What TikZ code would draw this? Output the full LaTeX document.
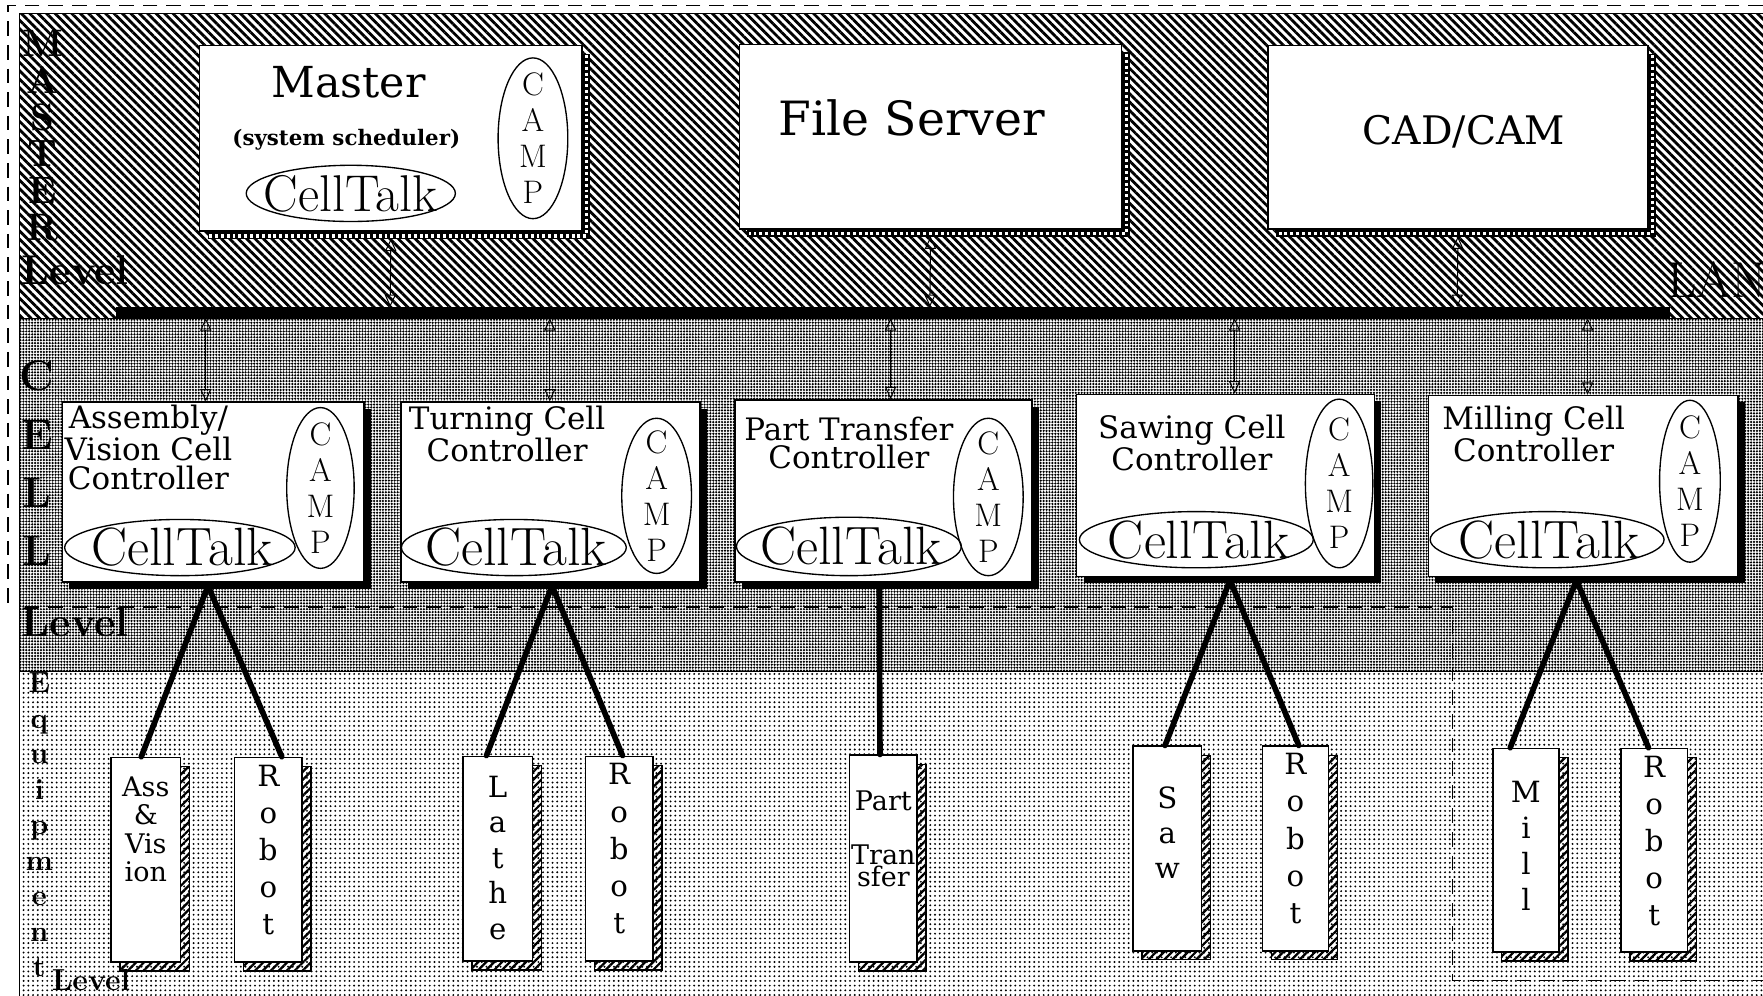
\documentclass[tikz,border=0pt]{standalone}
\usepackage{fontspec}
\newfontfamily\dvs{DejaVu Serif}
\usetikzlibrary{patterns.meta,arrows.meta,shapes.geometric,shadows}
\tikzset{
  bandm/.style={draw=black, line width=1pt, pattern={Lines[angle=-45,distance=5.3pt,line width=2.5pt]}},
  bandc/.style={draw=black, line width=1pt, pattern={Dots[distance=2.6pt,radius=1.1pt]}},
  bande/.style={draw=black, line width=1pt, pattern={Dots[distance=4.2pt,radius=0.95pt]}},
  mbox/.style={draw=black, fill=white, line width=1.3pt, anchor=north west, inner sep=0pt,
    general shadow={fill=black, shadow xshift=7pt, shadow yshift=-7pt}},
  cbox/.style={draw=black, fill=white, line width=1.3pt, anchor=north west, inner sep=0pt,
    general shadow={fill=black, shadow xshift=6pt, shadow yshift=-6pt}},
  ebox/.style={draw=black, fill=white, line width=1.3pt, anchor=north west, inner sep=0pt,
    minimum height=182pt,
    general shadow={draw=black, line width=1.2pt, pattern={Lines[angle=45,distance=5pt,line width=2pt]},
      shadow xshift=8pt, shadow yshift=-8pt}},
  oval/.style={ellipse, draw=black, line width=1.2pt, inner sep=0pt},
  checker/.style={white, line width=3pt, dash pattern=on 2.6pt off 2.6pt},
  lanbus/.style={line width=10pt},
  biarrow/.style={line width=0.9pt, {Triangle[open,length=11pt,width=10pt]}-{Triangle[open,length=11pt,width=10pt]}},
  link/.style={line width=5pt, line cap=round, line join=round},
  outline/.style={dash pattern=on 13pt off 8pt, line width=1.2pt},
  ttl/.style={font=\dvs\fontsize{38}{40}\selectfont, inner sep=0pt},
  ctl/.style={font=\fontsize{48}{48}\selectfont, inner sep=0pt},
  camp/.style={font=\fontsize{29}{32}\selectfont, align=center, inner sep=0pt},
  ctrltxt/.style={font=\dvs\fontsize{27.5}{25.5}\selectfont, align=center, inner sep=0pt},
  eqtxt/.style={font=\dvs\fontsize{26}{33}\selectfont, align=center, inner sep=0pt, anchor=north},
  side/.style={inner sep=0pt, align=center, anchor=north},
  lvl/.style={inner sep=0pt, anchor=west, font=\bfseries\fontsize{37}{37}\selectfont},
}
\begin{document}
\begin{tikzpicture}[x=1pt,y=-1pt]
\useasboundingbox (0,0) rectangle (1568,885);
\fill[white] (0,0) rectangle (1568,885);
% bands
\path[bandm] (17,12) rectangle (1570,283);
\path[bandc] (17,283) rectangle (1570,597);
\path[bande] (17,597) rectangle (1570,887);
% dashed boundary
\draw[outline] (1568,5) -- (7,5) -- (7,540);
\draw[outline] (22,540) -- (1292,540) -- (1292,872) -- (1568,872);
% side labels
\node[side, font=\bfseries\fontsize{34}{32.6}\selectfont] (lblM) at (38,27) {M\\A\\S\\T\\E\\R};
\node[lvl] (lblML) at (19,240) {Level};
\node[side, font=\bfseries\fontsize{38}{51.7}\selectfont] (lblC) at (33,321) {C\\E\\L\\L};
\node[lvl] (lblCL) at (19,553) {Level};
\node[side, font=\bfseries\fontsize{26}{31.6}\selectfont] (lblE) at (35,598) {E\\q\\u\\i\\p\\m\\e\\n\\t};
\node[inner sep=0pt, anchor=base west, font=\bfseries\fontsize{27}{27}\selectfont] (lblEL) at (46,881) {Level};
\node[inner sep=0pt, anchor=base west, font=\fontsize{45}{45}\selectfont] (lan) at (1483,265) {LAN};
% LAN bus
\coordinate (lanL) at (103,278);
\coordinate (lanR) at (1485,278);
\draw[lanbus] (lanL) -- (lanR);
% master level boxes
\node[mbox, minimum width=340pt, minimum height=165pt] (master) at (177,40) {};
\node[mbox, minimum width=340pt, minimum height=164pt] (fs) at (657,39) {};
\node[mbox, minimum width=338pt, minimum height=163pt] (cad) at (1127,40) {};
\foreach \b in {master,fs,cad}{
  \draw[checker] ([xshift=3.5pt,yshift=-9pt]\b.north east) -- ([xshift=3.5pt,yshift=-3.5pt]\b.south east) -- ([xshift=9pt,yshift=-3.5pt]\b.south west);
}
\node[ttl] (mastert) at (310,73) {Master};
\node[font=\dvs\bfseries\fontsize{19}{19}\selectfont, inner sep=0pt] (sched) at (308,124) {(system scheduler)};
\node[oval, minimum width=186pt, minimum height=50pt] (ctm) at (312,172) {};
\node[ctl, font=\fontsize{46}{46}\selectfont] (ctmt) at (ctm) {CellTalk};
\node[oval, minimum width=62pt, minimum height=143pt] (cpm) at (474,123) {};
\node[camp] (cpmt) at (cpm) {C\\A\\M\\P};
\node[ttl, font=\dvs\fontsize{42}{42}\selectfont] (fst) at (811,105) {File Server};
\node[ttl, font=\dvs\fontsize{35}{35}\selectfont] (cadt) at (1302,117) {CAD/CAM};
% LAN coordinates
\coordinate (lm1) at (347,273);
\coordinate (lm2) at (827,273);
\coordinate (lm3) at (1296,273);
\draw[biarrow] ([yshift=-6pt]master.south) -- (lm1);
\draw[biarrow] ([yshift=-6pt]fs.south) -- (lm2);
\draw[biarrow] ([yshift=-6pt]cad.south) -- (lm3);
% cell controllers
\node[cbox, minimum width=268pt, minimum height=160pt] (c1) at (55,357) {};
\node[cbox, minimum width=266pt, minimum height=160pt] (c2) at (356,357) {};
\node[cbox, minimum width=264pt, minimum height=162pt] (c3) at (653,355) {};
\node[cbox, minimum width=265pt, minimum height=162pt] (c4) at (957,350) {};
\node[cbox, minimum width=275pt, minimum height=161pt] (c5) at (1270,351) {};
\node[ctrltxt] (c1t) at (132,398) {Assembly/\\Vision Cell\\Controller};
\node[ctrltxt] (c2t) at (451,386) {Turning Cell\\Controller};
\node[ctrltxt] (c3t) at (755,394) {Part Transfer\\Controller};
\node[ctrltxt] (c4t) at (1060,394) {Sawing Cell\\Controller};
\node[ctrltxt] (c5t) at (1364,386) {Milling Cell\\Controller};
\node[oval, minimum width=205pt, minimum height=50pt] (ct1) at (160,487) {};
\node[oval, minimum width=200pt, minimum height=50pt] (ct2) at (457,487) {};
\node[oval, minimum width=200pt, minimum height=52pt] (ct3) at (755,486) {};
\node[oval, minimum width=208pt, minimum height=50pt] (ct4) at (1064,480) {};
\node[oval, minimum width=208pt, minimum height=50pt] (ct5) at (1376,480) {};
\foreach \c in {ct1,ct2,ct3,ct4,ct5}{ \node[ctl] at ([xshift=2pt]\c) {CellTalk}; }
\node[oval, minimum width=60pt, minimum height=143pt] (cp1) at (285,434) {};
\node[oval, minimum width=62pt, minimum height=138pt] (cp2) at (584,441) {};
\node[oval, minimum width=62pt, minimum height=140pt] (cp3) at (879,442) {};
\node[oval, minimum width=60pt, minimum height=150pt] (cp4) at (1191,430) {};
\node[oval, minimum width=54pt, minimum height=144pt] (cp5) at (1503,428) {};
\foreach \c in {cp1,cp2,cp3,cp4,cp5}{ \node[camp] at (\c) {C\\A\\M\\P}; }
% LAN to controllers
\coordinate (lc1) at (183,283);
\coordinate (lc2) at (489,283);
\coordinate (lc3) at (792,283);
\coordinate (lc4) at (1098,283);
\coordinate (lc5) at (1412,283);
\draw[biarrow] (lc1) -- (lc1 |- c1.north);
\draw[biarrow] (lc2) -- (lc2 |- c2.north);
\draw[biarrow] (lc3) -- (lc3 |- c3.north);
\draw[biarrow] (lc4) -- (lc4 |- c4.north);
\draw[biarrow] (lc5) -- (lc5 |- c5.north);
% equipment
\node[ebox, minimum width=62pt] (av) at (98,673) {};
\node[ebox, minimum width=60pt] (r1) at (208,673) {};
\node[ebox, minimum width=62pt] (lathe) at (411,672) {};
\node[ebox, minimum width=60pt] (r2) at (520,672) {};
\node[ebox, minimum width=60pt, minimum height=184pt] (pt) at (755,671) {};
\node[ebox, minimum width=61pt] (saw) at (1007,663) {};
\node[ebox, minimum width=59pt] (r3) at (1122,663) {};
\node[ebox, minimum width=59pt, minimum height=181pt] (mill) at (1327,665) {};
\node[ebox, minimum width=59pt, minimum height=181pt] (r4) at (1441,665) {};
\node[eqtxt, font=\dvs\fontsize{24}{25}\selectfont] (avt) at ([yshift=-18pt]av.north) {Ass\\\&\\Vis\\ion};
\node[eqtxt] (r1t) at ([yshift=-7pt]r1.north) {R\\o\\b\\o\\t};
\node[eqtxt, font=\dvs\fontsize{26}{31.5}\selectfont] (lathet) at ([yshift=-18pt]lathe.north) {L\\a\\t\\h\\e};
\node[eqtxt] (r2t) at ([yshift=-7pt]r2.north) {R\\o\\b\\o\\t};
\node[eqtxt, font=\dvs\fontsize{24}{18}\selectfont] (ptt) at ([yshift=-32pt]pt.north) {Part\\[30pt]Tran\\sfer};
\node[eqtxt, font=\dvs\fontsize{26}{31}\selectfont] (sawt) at ([yshift=-37pt]saw.north) {S\\a\\w};
\node[eqtxt] (r3t) at ([yshift=-7pt]r3.north) {R\\o\\b\\o\\t};
\node[eqtxt, font=\dvs\fontsize{26}{32}\selectfont] (millt) at ([yshift=-30pt]mill.north) {M\\i\\l\\l};
\node[eqtxt] (r4t) at ([yshift=-7pt]r4.north) {R\\o\\b\\o\\t};
% links
\coordinate (k1) at (185,521);
\coordinate (k2) at (491,521);
\coordinate (k3) at (782,521);
\coordinate (k4) at (1094,516);
\coordinate (k5) at (1402,516);
\draw[link] ([xshift=-4pt]av.north) -- (k1) -- ([xshift=12pt]r1.north);
\draw[link] ([xshift=-10pt]lathe.north) -- (k2) -- ([xshift=3pt]r2.north);
\draw[link] (k3) -- ([xshift=-3pt]pt.north);
\draw[link] ([xshift=-2pt]saw.north) -- (k4) -- ([xshift=3pt]r3.north);
\draw[link] ([xshift=-14pt]mill.north) -- (k5) -- ([xshift=-5pt]r4.north);
\end{tikzpicture}
\end{document}
